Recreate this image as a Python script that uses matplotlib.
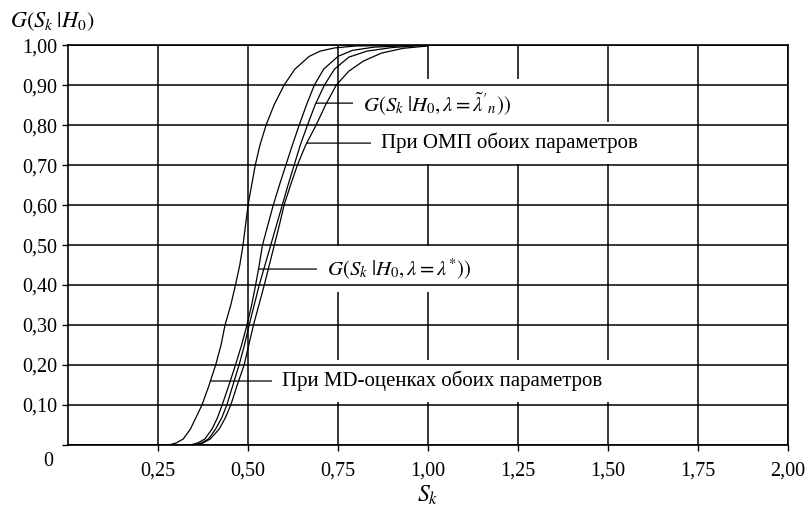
import numpy as np
import matplotlib
matplotlib.use('Agg')
import matplotlib.pyplot as plt

plt.rcParams['font.family'] = ['Liberation Serif', 'DejaVu Serif']
plt.rcParams['mathtext.fontset'] = 'stix'

# curves: (S_k, G) pairs
sk_md = [0.0, 0.28, 0.30, 0.32, 0.34, 0.355, 0.372, 0.39, 0.41, 0.425, 0.436, 0.452, 0.465, 0.477,
         0.486, 0.493, 0.50, 0.51, 0.52, 0.533, 0.55, 0.572, 0.60, 0.63, 0.67, 0.70, 0.74, 0.80, 1.0]
g_md = [0.0, 0.0, 0.005, 0.015, 0.04, 0.068, 0.10, 0.145, 0.20, 0.25, 0.30, 0.35, 0.40, 0.45,
        0.50, 0.55, 0.60, 0.65, 0.70, 0.75, 0.80, 0.85, 0.90, 0.94, 0.972, 0.985, 0.993, 0.998, 1.0]

sk_star = [0.0, 0.34, 0.36, 0.38, 0.40, 0.415, 0.428, 0.447, 0.465, 0.482, 0.497, 0.51, 0.521, 0.531,
           0.540, 0.555, 0.570, 0.587, 0.605, 0.623, 0.642, 0.662, 0.684, 0.71, 0.75, 0.79, 0.85, 0.95, 1.0]
g_star = [0.0, 0.0, 0.005, 0.015, 0.04, 0.068, 0.10, 0.15, 0.20, 0.25, 0.30, 0.35, 0.40, 0.45,
          0.50, 0.55, 0.60, 0.65, 0.70, 0.75, 0.80, 0.85, 0.90, 0.94, 0.972, 0.987, 0.995, 0.999, 1.0]

sk_tilde = [0.0, 0.35, 0.37, 0.39, 0.41, 0.427, 0.441, 0.458, 0.475, 0.49, 0.503, 0.517, 0.531, 0.547,
            0.563, 0.579, 0.595, 0.611, 0.628, 0.645, 0.665, 0.686, 0.712, 0.74, 0.78, 0.83, 0.90, 1.0]
g_tilde = [0.0, 0.0, 0.005, 0.015, 0.04, 0.068, 0.10, 0.15, 0.20, 0.25, 0.30, 0.35, 0.40, 0.45,
           0.50, 0.55, 0.60, 0.65, 0.70, 0.75, 0.80, 0.85, 0.90, 0.94, 0.97, 0.985, 0.994, 1.0]

sk_omp = [0.0, 0.35, 0.375, 0.395, 0.42, 0.437, 0.452, 0.47, 0.489, 0.502, 0.515, 0.53, 0.545, 0.559,
          0.573, 0.587, 0.60, 0.618, 0.637, 0.66, 0.689, 0.715, 0.745, 0.78, 0.82, 0.87, 0.93, 1.0]
g_omp = [0.0, 0.0, 0.005, 0.015, 0.04, 0.068, 0.10, 0.15, 0.20, 0.25, 0.30, 0.35, 0.40, 0.45,
         0.50, 0.55, 0.60, 0.65, 0.70, 0.75, 0.80, 0.85, 0.90, 0.935, 0.96, 0.98, 0.992, 0.998]

x_ticks = [0.25, 0.50, 0.75, 1.00, 1.25, 1.50, 1.75, 2.00]
y_ticks = [0.0, 0.1, 0.2, 0.3, 0.4, 0.5, 0.6, 0.7, 0.8, 0.9, 1.0]


def comma(v):
    return '{:.2f}'.format(v).replace('.', ',')


fig = plt.figure(figsize=(8.1, 5.13), dpi=100)
ax = fig.add_axes([0.084, 0.1326, 0.889, 0.7794])

for sk, g in [(sk_md, g_md), (sk_star, g_star), (sk_tilde, g_tilde), (sk_omp, g_omp)]:
    ax.plot(sk, g, color='black', lw=0.9, zorder=2)

ax.set_xlim(0, 2.0)
ax.set_ylim(0, 1.0)
ax.set_xticks(x_ticks)
ax.set_xticklabels([comma(v) for v in x_ticks])
ax.set_yticks(y_ticks)
ax.set_yticklabels([''] + [comma(v) for v in y_ticks[1:]])
ax.tick_params(axis='both', labelsize=14.5, color='black', width=1.0, length=4, direction='out')
ax.tick_params(axis='x', pad=8)
ax.grid(True, color='black', lw=1.1)
for s in ax.spines.values():
    s.set_linewidth(1.2)
# horizontal grid above the label boxes, vertical grid below
ax.xaxis.set_zorder(0.5)
ax.yaxis.set_zorder(5)

ax.annotate('0', xy=(0, 0), xytext=(-14, -12), textcoords='offset points',
            ha='center', va='center', fontsize=14.5, annotation_clip=False)

fig.text(0.012, 0.957, r'$G(S_k\;|H_0)$', fontsize=16, ha='left', va='center')
fig.text(0.528, 0.035, r'$S_k$', fontsize=17, ha='center', va='center')

box = dict(boxstyle='square,pad=0.5', fc='white', ec='none')
line = dict(arrowstyle='-', color='black', lw=0.9, shrinkA=0, shrinkB=0)

# leaders: (text, curve, y level, text x)
labels = [
    (r"$G(S_k\;|H_0,\lambda=\tilde{\lambda}'_n))$", sk_tilde, g_tilde, 0.855, 0.82),
    ('При ОМП обоих параметров', sk_omp, g_omp, 0.755, 0.87),
    (r'$G(S_k\;|H_0,\lambda=\lambda^{*}))$', sk_star, g_star, 0.44, 0.72),
    ('При MD-оценках обоих параметров', sk_md, g_md, 0.16, 0.595),
]
for txt, sk, g, yl, xt in labels:
    xc = np.interp(yl, g, sk)
    ax.annotate(txt, xy=(xc, yl), xytext=(xt, yl), ha='left', va='center',
                fontsize=15, bbox=box, arrowprops=line, zorder=3)

plt.savefig('out.png', dpi=100)
